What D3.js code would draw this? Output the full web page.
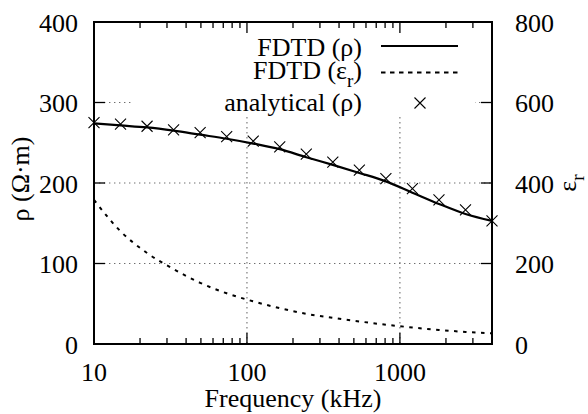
<!DOCTYPE html>
<html><head><meta charset="utf-8">
<script src="https://cdn.jsdelivr.net/npm/d3@7"></script>
<style>
svg text, svg tspan { font-family: "Liberation Serif", Tinos, serif !important; }
</style>
</head>
<body style="margin:0">
<svg id="c" width="588" height="414" font-family="Liberation Serif" style="font-family:'Liberation Serif'"></svg>
<script>
// ---- data ----
const freq = [10, 14.91, 22.23, 33.15, 49.42, 73.69, 109.9, 163.8, 244.3, 364.2, 543.0, 809.6, 1207, 1800, 2684, 4000];
const rhoFDTD = [274, 271.5, 269, 265, 260, 255, 249, 242, 232, 222.5, 212.5, 202, 188, 174, 161.5, 153];
const epsFDTD = [358, 280, 226, 186, 152, 126, 106, 89, 75, 65, 56, 48, 41, 35, 30, 26.5];
const rhoAnalytical = [275, 273, 270.5, 266, 262.5, 257.5, 252, 245, 236, 226, 216, 205.5, 193, 179, 166.5, 153];
const xTickVals = [10, 100, 1000];
const xMinorVals = [20,30,40,50,60,70,80,90,200,300,400,500,600,700,800,900,2000,3000];
const yTickVals = [0, 100, 200, 300, 400];
const y2TickVals = [0, 200, 400, 600, 800];
const yGridVals = [100, 200, 300];
const xGridVals = [100, 1000];

// ---- layout ----
const L = 94, R = 492, T = 22, B = 344;
const FS = 26;
const svg = d3.select("#c");
const x = d3.scaleLog().domain([10, 4000]).range([L, R]);
const y = d3.scaleLinear().domain([0, 400]).range([B, T]);
const y2 = d3.scaleLinear().domain([0, 800]).range([B, T]);

function txt(g) {
  return g.append("text").attr("font-family", "Liberation Serif")
    .style("font-family", '"Liberation Serif", Tinos, serif', "important").attr("font-size", FS);
}

// grid
const gridCol = "#6e6e6e";
svg.append("g").selectAll("line").data(yGridVals).join("line")
  .attr("x1", L).attr("x2", R).attr("y1", d => y(d)).attr("y2", d => y(d))
  .attr("stroke", gridCol).attr("stroke-width", 1.1).attr("stroke-dasharray", "1.4,3.6");
svg.append("g").selectAll("line").data(xGridVals).join("line")
  .attr("x1", d => x(d)).attr("x2", d => x(d)).attr("y1", T).attr("y2", B)
  .attr("stroke", gridCol).attr("stroke-width", 1.1).attr("stroke-dasharray", "1.4,3.6");

// key background
svg.append("rect").attr("x", 131).attr("y", T).attr("width", 475 - 131).attr("height", 117 - T).attr("fill", "#fff");

// curves
const lineRho = d3.line().x((d, i) => x(freq[i])).y(d => y(d)).curve(d3.curveMonotoneX);
const lineEps = d3.line().x((d, i) => x(freq[i])).y(d => y2(d)).curve(d3.curveMonotoneX);
svg.append("path").attr("d", lineEps(epsFDTD)).attr("fill", "none").attr("stroke", "#000")
  .attr("stroke-width", 2).attr("stroke-dasharray", "3.5,5.5");
svg.append("path").attr("d", lineRho(rhoFDTD)).attr("fill", "none").attr("stroke", "#000")
  .attr("stroke-width", 2.2);

// markers
function cross(g, cx, cy, s) {
  g.append("path").attr("d", `M${cx-s},${cy-s}L${cx+s},${cy+s}M${cx-s},${cy+s}L${cx+s},${cy-s}`)
    .attr("stroke", "#000").attr("stroke-width", 1.1).attr("fill", "none");
}
const mg = svg.append("g");
rhoAnalytical.forEach((v, i) => cross(mg, x(freq[i]), y(v), 5.5));

// ticks
const tk = svg.append("g").attr("stroke", "#000").attr("stroke-width", 1.3);
xTickVals.forEach(v => {
  tk.append("line").attr("x1", x(v)).attr("x2", x(v)).attr("y1", B).attr("y2", B - 11);
  tk.append("line").attr("x1", x(v)).attr("x2", x(v)).attr("y1", T).attr("y2", T + 11);
});
xMinorVals.forEach(v => {
  tk.append("line").attr("x1", x(v)).attr("x2", x(v)).attr("y1", B).attr("y2", B - 6);
  tk.append("line").attr("x1", x(v)).attr("x2", x(v)).attr("y1", T).attr("y2", T + 6);
});
yTickVals.forEach(v => {
  tk.append("line").attr("x1", L).attr("x2", L + 11).attr("y1", y(v)).attr("y2", y(v));
});
y2TickVals.forEach(v => {
  tk.append("line").attr("x1", R).attr("x2", R - 11).attr("y1", y2(v)).attr("y2", y2(v));
});

// border
svg.append("rect").attr("x", L).attr("y", T).attr("width", R - L).attr("height", B - T)
  .attr("fill", "none").attr("stroke", "#000").attr("stroke-width", 2);

// tick labels
xTickVals.forEach(v => txt(svg).attr("x", x(v)).attr("y", 381).attr("text-anchor", "middle").text(v));
yTickVals.forEach(v => txt(svg).attr("x", 78).attr("y", y(v) + 9.5).attr("text-anchor", "end").text(v));
y2TickVals.forEach(v => txt(svg).attr("x", 515).attr("y", y2(v) + 9.5).attr("text-anchor", "start").text(v));

// axis titles
txt(svg).attr("x", (L + R) / 2).attr("y", 407).attr("text-anchor", "middle").text("Frequency (kHz)");
txt(svg).attr("transform", "translate(29,179) rotate(-90)").attr("text-anchor", "middle").text("ρ (Ω·m)");
const e2 = txt(svg).attr("transform", "translate(576,183) rotate(-90)").attr("text-anchor", "middle");
e2.append("tspan").text("ε");
e2.append("tspan").attr("font-size", 19).attr("dy", 8).text("r");

// legend
const keyX = 362;
txt(svg).attr("x", keyX).attr("y", 55.5).attr("text-anchor", "end").text("FDTD (ρ)");
const k2 = txt(svg).attr("x", keyX).attr("y", 79).attr("text-anchor", "end");
k2.append("tspan").text("FDTD (ε");
k2.append("tspan").attr("font-size", 19).attr("dy", 8).text("r");
k2.append("tspan").attr("dy", -8).text(")");
txt(svg).attr("x", keyX).attr("y", 111).attr("text-anchor", "end").text("analytical (ρ)");
svg.append("line").attr("x1", 381).attr("x2", 458).attr("y1", 46).attr("y2", 46)
  .attr("stroke", "#000").attr("stroke-width", 2.2);
svg.append("line").attr("x1", 381).attr("x2", 458).attr("y1", 72.5).attr("y2", 72.5)
  .attr("stroke", "#000").attr("stroke-width", 2).attr("stroke-dasharray", "4.5,4.5");
cross(svg, 420, 103, 5.5);
</script></body></html>
